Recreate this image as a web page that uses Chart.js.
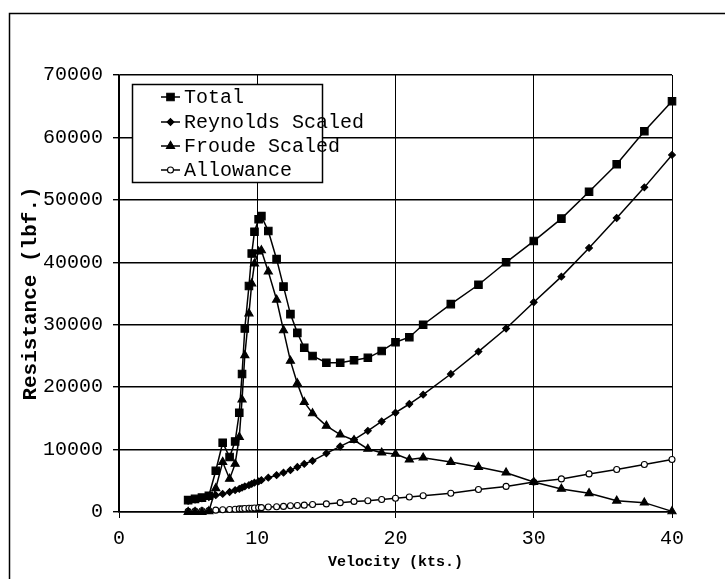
<!DOCTYPE html>
<html><head><meta charset="utf-8">
<script src="https://cdn.jsdelivr.net/npm/chart.js@4"></script>
<style>html,body{margin:0;padding:0;background:#fff;}#wrap{width:725px;height:579px;position:relative;}</style>
</head><body><div id="wrap"><canvas id="c" width="725" height="579"></canvas></div>
<script>
const velocity = [5,5.5,6,6.5,7,7.5,8,8.4,8.7,8.9,9.1,9.4,9.6,9.8,10.1,10.3,10.8,11.4,11.9,12.4,12.9,13.4,14,15,16,17,18,19,20,21,22,24,26,28,30,32,34,36,38,40];
const total = [1900,2100,2300,2600,6600,11100,8800,11300,15900,22100,29400,36200,41400,44900,46900,47400,45000,40500,36100,31700,28700,26300,25000,23900,23900,24300,24700,25800,27200,28000,30000,33300,36400,40000,43400,47000,51300,55700,61000,65800];
const reynolds = [1800,2000,2200,2400,2700,2900,3200,3500,3700,3900,4100,4300,4500,4700,4900,5100,5500,5900,6300,6700,7200,7700,8200,9400,10500,11600,13000,14500,15900,17300,18800,22100,25700,29400,33600,37700,42300,47100,52000,57200];
const froude = [0,0,0,100,3800,8000,5300,7700,12000,18000,25100,31800,36600,39800,41700,41900,38500,34000,29100,24200,20600,17600,15800,13800,12400,11500,10100,9500,9300,8400,8700,8000,7200,6300,4800,3700,3000,1800,1500,100];
const allowance = [100,150,200,250,300,350,400,450,500,500,550,600,600,650,700,700,800,850,900,1000,1050,1100,1200,1300,1500,1700,1800,2000,2200,2400,2600,3000,3600,4100,4800,5300,6100,6800,7600,8400];
const seriesNames = ['Total','Reynolds Scaled','Froude Scaled','Allowance'];
const xTicks = [0,10,20,30,40];
const yTicks = [0,10000,20000,30000,40000,50000,60000,70000];
const xTitle = 'Velocity (kts.)';
const yTitle = 'Resistance (lbf.)';

const MONO = '"Liberation Mono","Courier New",monospace';
const styles = [
  {pointStyle:'rect', pointRadius:5.3, fill:'#000'},
  {pointStyle:'rectRot', pointRadius:3.4, fill:'#000'},
  {pointStyle:'triangle', pointRadius:4.7, fill:'#000'},
  {pointStyle:'circle', pointRadius:3, fill:'#fff'}
];
const seriesValues = [total, reynolds, froude, allowance];

function mk(i){
  return {
    label: seriesNames[i],
    data: velocity.map((v,k)=>({x:v,y:seriesValues[i][k]})),
    borderColor:'#000', borderWidth:1.5, tension:0,
    pointStyle: styles[i].pointStyle, pointRadius: styles[i].pointRadius,
    pointBackgroundColor: styles[i].fill, pointBorderColor:'#000', pointBorderWidth:1.1,
    clip: 10
  };
}

function drawMarker(ctx, st, x, y){
  ctx.save();
  ctx.fillStyle = st.fill; ctx.strokeStyle='#000'; ctx.lineWidth=1.1;
  ctx.beginPath();
  const r = st.pointRadius;
  if (st.pointStyle==='rect'){ const s=r*Math.SQRT1_2; ctx.rect(x-s,y-s,2*s,2*s); }
  else if (st.pointStyle==='rectRot'){ ctx.moveTo(x,y-r);ctx.lineTo(x+r,y);ctx.lineTo(x,y+r);ctx.lineTo(x-r,y);ctx.closePath(); }
  else if (st.pointStyle==='triangle'){ ctx.moveTo(x,y-r);ctx.lineTo(x+r*0.866,y+r*0.5);ctx.lineTo(x-r*0.866,y+r*0.5);ctx.closePath(); }
  else { ctx.arc(x,y,r,0,Math.PI*2); }
  ctx.fill(); ctx.stroke();
  ctx.restore();
}

const framePlugin = {
  id:'frame',
  beforeDraw(chart){
    const ctx = chart.ctx;
    ctx.save();
    ctx.fillStyle='#fff'; ctx.fillRect(0,0,chart.width,chart.height);
    ctx.strokeStyle='#000'; ctx.lineWidth=1.5;
    ctx.strokeRect(9.5,13.5,900,900);
    ctx.restore();
  },
  afterDraw(chart){
    const ctx = chart.ctx;
    ctx.save();
    const bx=132.5, by=84.5, bw=190, bh=98;
    ctx.fillStyle='#fff'; ctx.fillRect(bx,by,bw,bh);
    ctx.strokeStyle='#000'; ctx.lineWidth=1.5; ctx.strokeRect(bx,by,bw,bh);
    ctx.font = '20px '+MONO; ctx.fillStyle='#000'; ctx.textBaseline='middle'; ctx.textAlign='left';
    const rows=[97,122,146,170];
    seriesNames.forEach((n,i)=>{
      const y=rows[i];
      ctx.beginPath(); ctx.lineWidth=1.5; ctx.strokeStyle='#000';
      ctx.moveTo(161,y); ctx.lineTo(180,y); ctx.stroke();
      drawMarker(ctx, styles[i], 170.5, y);
      ctx.fillText(n, 184, y+1);
    });
    ctx.restore();
  }
};

new Chart(document.getElementById('c'), {
  type:'line',
  data:{ datasets:[mk(0),mk(1),mk(2),mk(3)] },
  options:{
    responsive:false, animation:false, devicePixelRatio:1,
    layout:{ padding:{ left:0, top:75, right:53, bottom:0 } },
    plugins:{ legend:{display:false}, tooltip:{enabled:false} },
    scales:{
      x:{
        type:'linear', min:0, max:40,
        afterBuildTicks:s=>{ s.ticks = xTicks.map(v=>({value:v})); },
        afterFit:s=>{ s.height = 67; },
        grid:{ color:'#000', lineWidth:1, tickLength:6, tickColor:'#000' },
        border:{ color:'#000', width:1.5 },
        ticks:{ color:'#000', font:{family:MONO, size:20}, padding:9, maxRotation:0, autoSkip:false },
        title:{ display:true, text:xTitle, color:'#000', font:{family:MONO, size:15, weight:'bold'}, padding:{top:0,bottom:8} }
      },
      y:{
        type:'linear', min:0, max:70000,
        afterBuildTicks:s=>{ s.ticks = yTicks.map(v=>({value:v})); },
        afterFit:s=>{ s.width = 119; },
        grid:{ color:'#000', lineWidth:1.4, tickLength:6, tickColor:'#000' },
        border:{ color:'#000', width:1.5 },
        ticks:{ color:'#000', font:{family:MONO, size:20}, padding:10, autoSkip:false, callback:v=>String(v) },
        title:{ display:true, text:yTitle, color:'#000', font:{family:MONO, size:21, weight:'bold'}, padding:{top:18,bottom:0} }
      }
    }
  },
  plugins:[framePlugin]
});
</script></body></html>
